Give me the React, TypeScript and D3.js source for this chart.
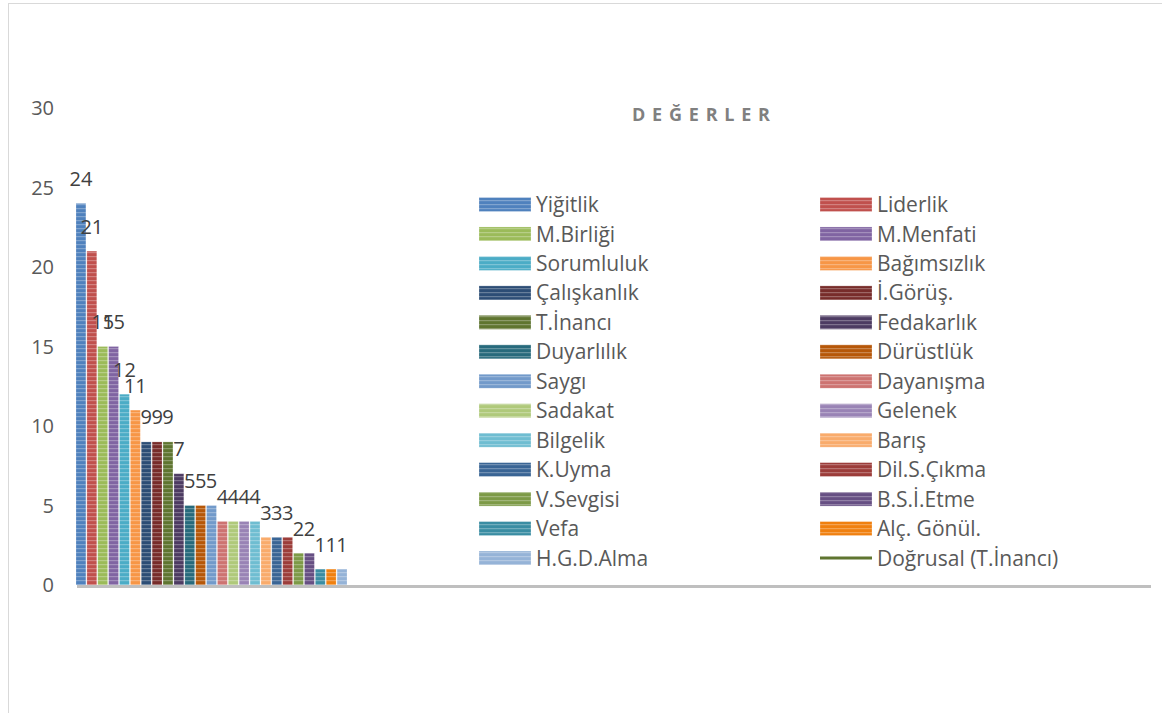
import React, { useEffect } from 'react';
import * as d3 from 'd3';

// Values ("Değerler")
const categories = [
  'Yiğitlik', 'Liderlik', 'M.Birliği', 'M.Menfati', 'Sorumluluk', 'Bağımsızlık',
  'Çalışkanlık', 'İ.Görüş.', 'T.İnancı', 'Fedakarlık', 'Duyarlılık', 'Dürüstlük',
  'Saygı', 'Dayanışma', 'Sadakat', 'Gelenek', 'Bilgelik', 'Barış',
  'K.Uyma', 'Dil.S.Çıkma', 'V.Sevgisi', 'B.S.İ.Etme', 'Vefa', 'Alç. Gönül.', 'H.G.D.Alma',
];
const values = [24, 21, 15, 15, 12, 11, 9, 9, 9, 7, 5, 5, 5, 4, 4, 4, 4, 3, 3, 3, 2, 2, 1, 1, 1];
const colors = [
  '#4F81BD', '#C0504D', '#9BBB59', '#8064A2', '#4BACC6', '#F79646',
  '#2C4D75', '#772C2A', '#5F7530', '#4D3B62', '#276A7C', '#B65708',
  '#729ACA', '#CD7371', '#AFC97A', '#9983B5', '#6FBDD1', '#F9AB6B',
  '#3A6595', '#9C3D3A', '#7D9A47', '#664F83', '#3A8DA3', '#F0800F', '#95B3D7',
];
const yTicks = [0, 5, 10, 15, 20, 25, 30];
const trendLabel = 'Doğrusal (T.İnancı)';
const trendColor = '#5F7530';
const title = 'DEĞERLER';

const W = 1162;
const H = 713;
const font = "'Open Sans', 'Noto Sans', sans-serif";

const App: React.FC = () => {
  useEffect(() => {
    document.body.style.margin = '0';
  }, []);

  const y = d3.scaleLinear().domain([0, 30]).range([585, 108]);
  const x = d3.scaleBand<string>().domain(categories).range([76, 347]).paddingInner(0.09);

  // legend: two columns, series order left-right then down
  const legendItems = [...categories.map((c, i) => ({ label: c, i })), { label: trendLabel, i: -1 }];
  const legendRow = d3.scaleLinear().domain([0, 12]).range([204.5, 558]);
  const legendCol = [479, 820];

  return (
    <svg width={W} height={H} style={{ display: 'block', background: '#fff' }} fontFamily={font}>
      <defs>
        {colors.map((c, i) => (
          <pattern key={i} id={`stripe-${i}`} patternUnits="userSpaceOnUse" width={4} height={4}>
            <rect width={4} height={4} fill={c} />
            <rect y={0} width={4} height={1.2} fill="#fff" opacity={0.28} />
          </pattern>
        ))}
      </defs>

      {/* chart area border */}
      <rect x={8.5} y={3.5} width={W + 20} height={H + 20} fill="none" stroke="#d9d9d9" strokeWidth={1} />

      {/* y tick labels */}
      {yTicks.map(t => (
        <text key={t} x={54} y={y(t)} dy="0.35em" textAnchor="end" fontSize={20} fill="#595959">
          {t}
        </text>
      ))}

      {/* bars */}
      {categories.map((c, i) => (
        <rect
          key={c}
          x={x(c)}
          y={y(values[i])}
          width={x.bandwidth()}
          height={y(0) - y(values[i])}
          fill={`url(#stripe-${i})`}
          stroke="#fff"
          strokeOpacity={0.25}
          strokeWidth={0.8}
        />
      ))}

      {/* x axis line */}
      <line x1={77} x2={1151} y1={586.5} y2={586.5} stroke="#bfbfbf" strokeWidth={3} />

      {/* data labels */}
      {categories.map((c, i) => (
        <text
          key={c}
          x={(x(c) ?? 0) + x.bandwidth() / 2}
          y={y(values[i]) - 17.5}
          textAnchor="middle"
          fontSize={20}
          fill="#404040"
        >
          {values[i]}
        </text>
      ))}

      {/* title */}
      <text
        x={632}
        y={121}
        fontSize={18}
        fontWeight="bold"
        fill="#808080"
        textLength={138}
        lengthAdjust="spacing"
      >
        {title}
      </text>

      {/* legend */}
      {legendItems.map((d, k) => {
        const col = k % 2;
        const row = Math.floor(k / 2);
        const cx = legendCol[col];
        const cy = legendRow(row);
        return (
          <g key={d.label}>
            {d.i >= 0 ? (
              <rect x={cx} y={cy - 7} width={52} height={14} fill={`url(#stripe-${d.i})`} stroke="#fff" strokeOpacity={0.3} strokeWidth={0.8} />
            ) : (
              <line x1={cx} x2={cx + 52} y1={cy} y2={cy} stroke={trendColor} strokeWidth={3} />
            )}
            <text x={cx + 57} y={cy} dy="0.36em" fontSize={21} fill="#595959">
              {d.label}
            </text>
          </g>
        );
      })}
    </svg>
  );
};

export default App;
